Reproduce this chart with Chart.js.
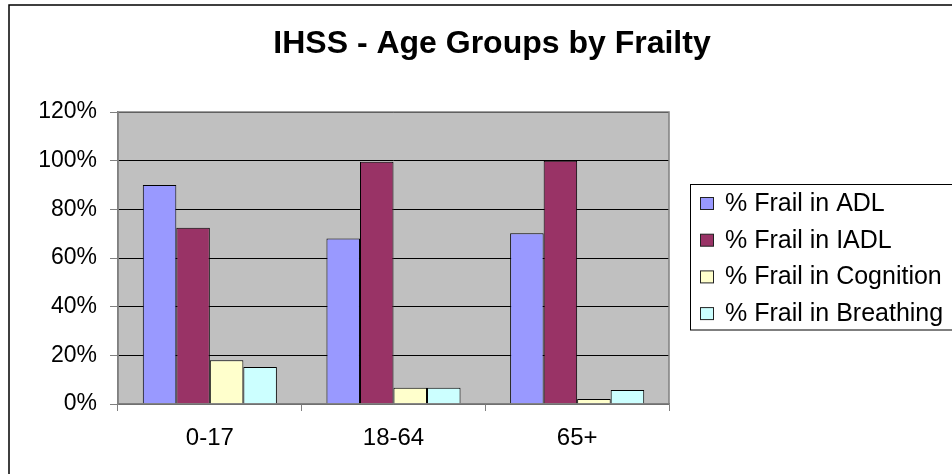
<!DOCTYPE html>
<html><head><meta charset="utf-8">
<script src="https://cdn.jsdelivr.net/npm/chart.js"></script>
<style>html,body{margin:0;padding:0;background:#fff;} canvas{display:block;}</style>
</head><body>
<canvas id="c" width="952" height="474"></canvas>
<script>
const chartTitle = 'IHSS - Age Groups by Frailty';
const categories = ['0-17', '18-64', '65+'];
const seriesNames = ['% Frail in ADL', '% Frail in IADL', '% Frail in Cognition', '% Frail in Breathing'];
const frailADL = [90, 68, 70.2];
const frailIADL = [72.4, 99.6, 100];
const frailCognition = [18, 6.7, 2.1];
const frailBreathing = [15.2, 6.7, 5.8];
const yTickLabels = ['0%', '20%', '40%', '60%', '80%', '100%', '120%'];
const seriesColors = ['#9999FF', '#993366', '#FFFFCC', '#CCFFFF'];
const FONT = '"Liberation Sans", Arial, sans-serif';

const framePlugin = {
  id: 'excelFrame',
  beforeDraw(chart) {
    const {ctx, chartArea: a} = chart;
    ctx.save();
    ctx.fillStyle = '#fff';
    ctx.fillRect(0, 0, chart.width, chart.height);
    ctx.strokeStyle = '#000';
    ctx.lineWidth = 1.5;
    ctx.beginPath();
    ctx.moveTo(9, chart.height + 5);
    ctx.lineTo(9, 5);
    ctx.lineTo(chart.width + 5, 5);
    ctx.stroke();
    ctx.fillStyle = '#C0C0C0';
    ctx.fillRect(a.left, a.top, a.right - a.left, a.bottom - a.top);
    ctx.restore();
  },
  afterDraw(chart) {
    const {ctx, chartArea: a} = chart;
    ctx.save();
    ctx.strokeStyle = '#808080';
    ctx.lineWidth = 1.5;
    ctx.strokeRect(a.left, a.top, a.right - a.left, a.bottom - a.top);
    ctx.fillStyle = '#000';
    ctx.font = 'bold 32px ' + FONT;
    ctx.textAlign = 'center';
    ctx.textBaseline = 'alphabetic';
    ctx.fillText(chartTitle, 492, 53);
    ctx.lineWidth = 1;
    ctx.strokeStyle = '#000';
    ctx.strokeRect(690.5, 184.5, 300, 145.5);
    ctx.font = '25px ' + FONT;
    ctx.textAlign = 'left';
    chart.data.datasets.forEach((ds, i) => {
      const base = 211 + i * 36.7;
      ctx.fillStyle = ds.backgroundColor;
      ctx.fillRect(700.5, base - 13.5, 13, 12);
      ctx.strokeStyle = '#222';
      ctx.strokeRect(700.5, base - 13.5, 13, 12);
      ctx.fillStyle = '#000';
      ctx.fillText(ds.label, 725, base);
    });
    ctx.restore();
  }
};

const seriesValues = [frailADL, frailIADL, frailCognition, frailBreathing];

new Chart(document.getElementById('c'), {
  type: 'bar',
  data: {
    labels: categories,
    datasets: seriesNames.map((name, i) => ({
      label: name,
      data: seriesValues[i],
      backgroundColor: seriesColors[i],
      borderColor: '#000',
      borderWidth: 1,
      categoryPercentage: 0.73,
      barPercentage: 1.0
    }))
  },
  options: {
    responsive: false,
    animation: false,
    devicePixelRatio: 1,
    layout: { padding: { top: 112, right: 283, bottom: 0, left: 0 } },
    plugins: {
      legend: { display: false },
      title: { display: false },
      tooltip: { enabled: false }
    },
    scales: {
      y: {
        min: 0,
        max: 120,
        afterFit(s) { s.width = 118; },
        ticks: {
          stepSize: 20,
          callback: (v, i) => yTickLabels[i],
          font: { family: FONT, size: 23 },
          color: '#000',
          padding: 13
        },
        grid: { color: '#000', lineWidth: 1, tickLength: 8, tickColor: '#808080', drawTicks: true },
        border: { display: true, color: '#808080', width: 1.5 }
      },
      x: {
        afterFit(s) { s.height = 70; },
        ticks: { font: { family: FONT, size: 24 }, color: '#000', padding: 13 },
        grid: { offset: true, drawOnChartArea: false, drawTicks: true, tickLength: 7, tickColor: '#808080', color: '#808080' },
        border: { display: true, color: '#808080', width: 1.5 }
      }
    }
  },
  plugins: [framePlugin]
});
</script>
</body></html>
